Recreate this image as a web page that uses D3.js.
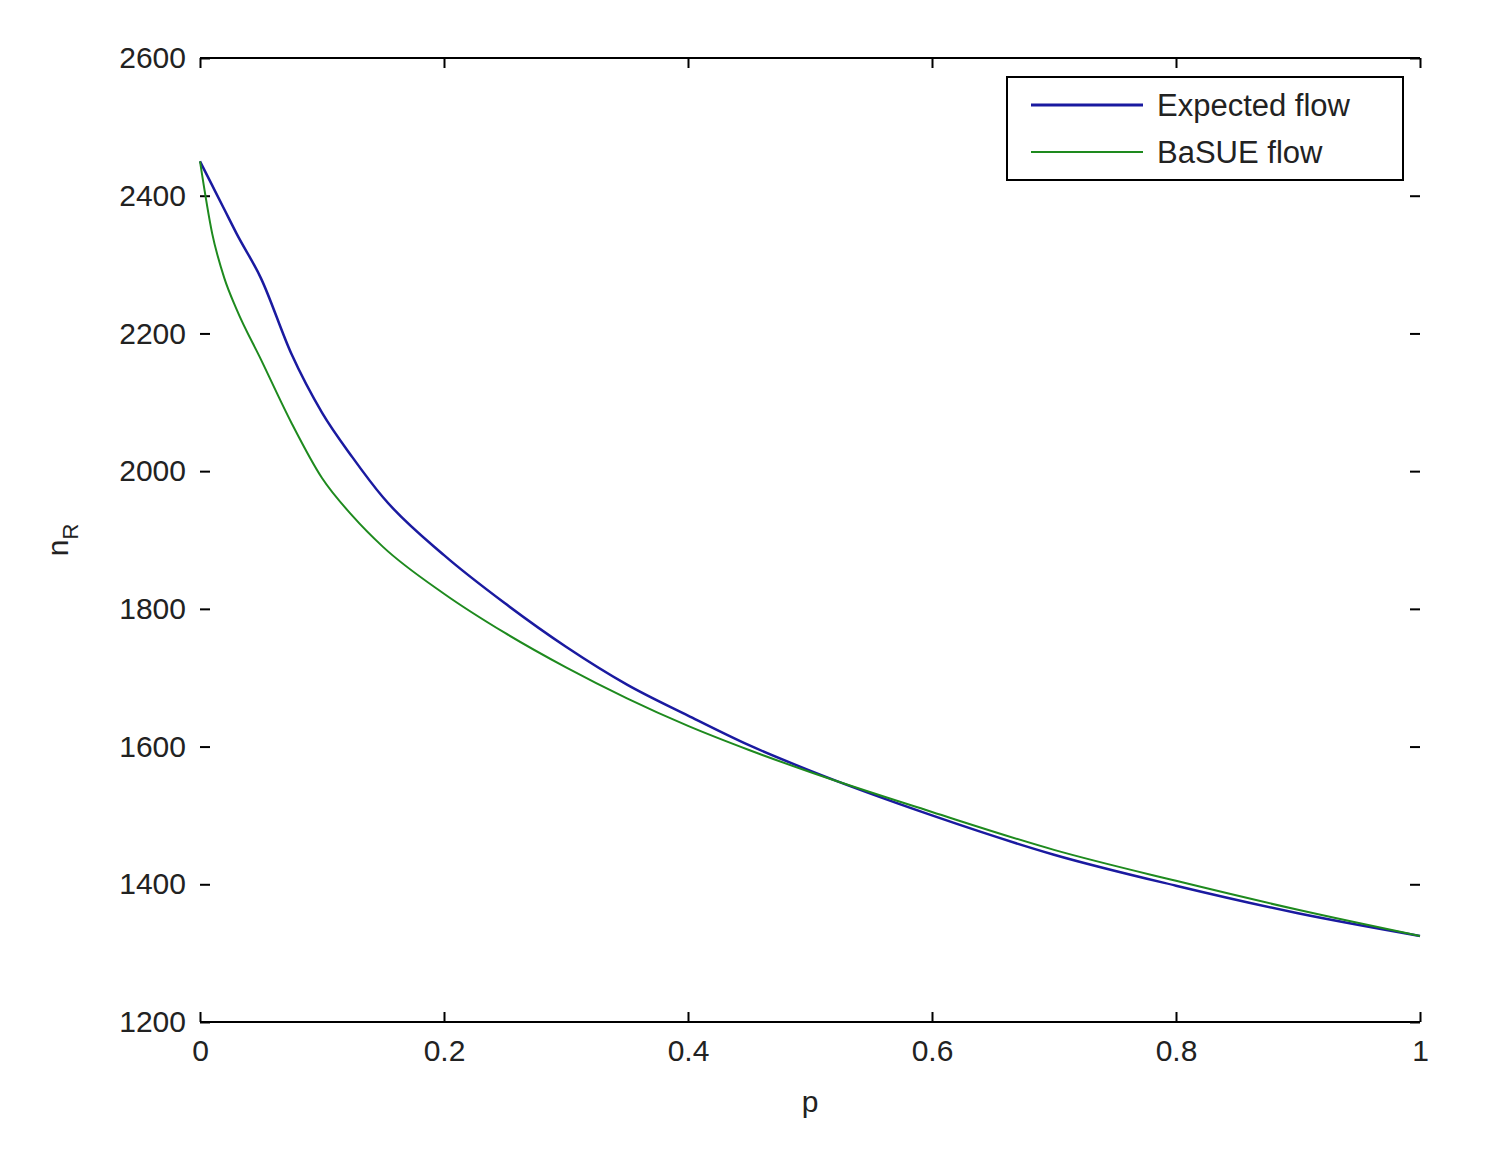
<!DOCTYPE html>
<html>
<head>
<meta charset="utf-8">
<script src="https://cdn.jsdelivr.net/npm/d3@7"></script>
<style>
  body { margin: 0; background: #fff; }
  text { font-family: "Liberation Sans", Arial, sans-serif; fill: #222; }
</style>
</head>
<body>
<svg id="chart"></svg>
<script>
// Values
const pValues = [0, 0.01, 0.02, 0.03, 0.05, 0.075, 0.1, 0.125, 0.15, 0.2, 0.25, 0.3, 0.35, 0.4, 0.45, 0.5, 0.6, 0.7, 0.8, 0.9, 1.0];
const expectedFlow = [2450, 2415, 2380, 2345, 2280, 2170, 2085, 2020, 1962, 1878, 1808, 1745, 1690, 1645, 1602, 1565, 1500, 1443, 1398, 1358, 1325];
const basueFlow = [2450, 2345, 2280, 2235, 2162, 2070, 1990, 1935, 1890, 1822, 1765, 1715, 1670, 1630, 1595, 1563, 1505, 1450, 1405, 1363, 1325];
const xTicks = [0, 0.2, 0.4, 0.6, 0.8, 1];
const yTicks = [1200, 1400, 1600, 1800, 2000, 2200, 2400, 2600];

const width = 1500, height = 1168;
const margin = { top: 58, right: 80, bottom: 146, left: 200 };
const chartWidth = width - margin.left - margin.right;
const chartHeight = height - margin.top - margin.bottom;

const svg = d3.select("#chart").attr("width", width).attr("height", height);
const g = svg.append("g").attr("transform", `translate(${margin.left},${margin.top})`);

const x = d3.scaleLinear().domain([0, 1]).range([0, chartWidth]);
const y = d3.scaleLinear().domain([1200, 2600]).range([chartHeight, 0]);

// Top and bottom frame lines
g.append("line").attr("x1", 0).attr("x2", chartWidth).attr("y1", 0).attr("y2", 0).attr("stroke", "#000").attr("stroke-width", 2);
g.append("line").attr("x1", 0).attr("x2", chartWidth).attr("y1", chartHeight).attr("y2", chartHeight).attr("stroke", "#000").attr("stroke-width", 2);

// Axes (ticks pointing inward, MATLAB style)
const styleAxis = sel => {
  sel.select(".domain").remove();
  sel.selectAll(".tick line").attr("stroke", "#000").attr("stroke-width", 2);
  sel.selectAll("text").style("font-size", "30px").attr("fill", "#222");
};
g.append("g").attr("transform", `translate(0,${chartHeight})`)
  .call(d3.axisBottom(x).tickValues(xTicks).tickFormat(d3.format("")).tickSize(-10).tickPadding(18))
  .call(styleAxis);
g.append("g")
  .call(d3.axisTop(x).tickValues(xTicks).tickFormat("").tickSize(-10))
  .call(styleAxis);
g.append("g")
  .call(d3.axisLeft(y).tickValues(yTicks).tickFormat(d3.format("d")).tickSize(-10).tickPadding(14))
  .call(styleAxis);
g.append("g").attr("transform", `translate(${chartWidth},0)`)
  .call(d3.axisRight(y).tickValues(yTicks).tickFormat("").tickSize(-10))
  .call(styleAxis);

// Lines
const line = vals => d3.line().x((d, i) => x(pValues[i])).y(d => y(d)).curve(d3.curveMonotoneX)(vals);
g.append("path").attr("d", line(expectedFlow)).attr("fill", "none").attr("stroke", "#1a1aa0").attr("stroke-width", 2.5);
g.append("path").attr("d", line(basueFlow)).attr("fill", "none").attr("stroke", "#1e8a1e").attr("stroke-width", 2);

// Axis labels
svg.append("text").attr("x", margin.left + chartWidth / 2).attr("y", 1112).attr("text-anchor", "middle").style("font-size", "30px").text("p");
const yl = svg.append("text").attr("transform", "translate(68,540) rotate(-90)").attr("text-anchor", "middle").style("font-size", "30px");
yl.append("tspan").text("n");
yl.append("tspan").attr("dy", 10).style("font-size", "22px").text("R");

// Legend
const legend = svg.append("g").attr("transform", "translate(1007,77)");
legend.append("rect").attr("width", 396).attr("height", 103).attr("fill", "#fff").attr("stroke", "#000").attr("stroke-width", 2);
const items = [["Expected flow", "#1a1aa0", 3], ["BaSUE flow", "#1e8a1e", 2]];
items.forEach(([label, color, w], i) => {
  const cy = 28 + i * 47;
  legend.append("line").attr("x1", 24).attr("x2", 136).attr("y1", cy).attr("y2", cy).attr("stroke", color).attr("stroke-width", w);
  legend.append("text").attr("x", 150).attr("y", cy + 11).style("font-size", "31px").text(label);
});
</script>
</body>
</html>
